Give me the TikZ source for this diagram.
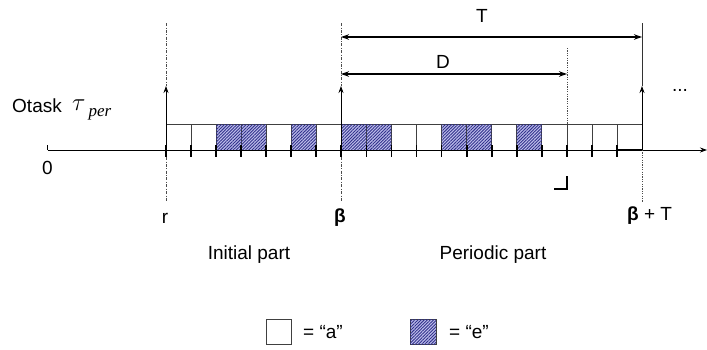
\documentclass[tikz,border=0pt]{standalone}
\usepackage{fontspec}
\setmainfont{Liberation Sans}
\newfontfamily\serifit{Liberation Serif}
\usetikzlibrary{patterns.meta,arrows.meta}
\definecolor{hatchc}{RGB}{50,50,140}
\definecolor{hatchbg}{RGB}{190,190,235}
\tikzset{
  lbl/.style={font=\fontsize{19}{22}\selectfont, inner sep=0pt},
  cellw/.style={draw=black!75, line width=0.6pt},
  cellh/.style={draw=black!75, line width=0.6pt, fill=hatchbg, postaction={pattern={Lines[angle=45,distance=2.2pt,line width=0.9pt]}, pattern color=hatchc}},
  tickm/.style={line width=1.8pt},
  dashdot/.style={dash pattern=on 3pt off 1.5pt on 0.8pt off 1.5pt, line width=0.5pt, black!70},
  dotln/.style={dash pattern=on 1.2pt off 1.2pt, line width=0.5pt, black!70},
  uparrow/.style={-{Stealth[length=7pt,width=5pt]}, line width=0.8pt},
  dimarrow/.style={{Stealth[length=8pt,width=5.5pt]}-{Stealth[length=8pt,width=5.5pt]}, line width=1.1pt},
}
\begin{document}
\begin{tikzpicture}[x=1pt,y=-1pt]
\useasboundingbox (0,0) rectangle (707,349);
% cells
\foreach \i in {0,...,18} {
  \pgfmathsetmacro\xa{166+25.05*\i}
  \pgfmathsetmacro\xb{166+25.05*(\i+1)}
  \draw[cellw] (\xa,124.5) rectangle (\xb,150);
}
\foreach \i in {2,3,5,7,8,11,12,14} {
  \pgfmathsetmacro\xa{166+25.05*\i}
  \pgfmathsetmacro\xb{166+25.05*(\i+1)}
  \draw[cellh] (\xa,124.5) rectangle (\xb,150);
}
% axis
\coordinate (ax0) at (47.7,150);
\coordinate (ax1) at (707,150);
\coordinate (ax0t) at (47.7,145);
\draw[line width=0.8pt, -{Stealth[length=7pt,width=5pt]}] (ax0) -- (ax1);
\draw[line width=0.8pt] (ax0t) -- (ax0);
\coordinate (bs0) at (617,150);
\coordinate (bs1) at (642,150);
\draw[tickm] (bs0) -- (bs1);
% ticks
\foreach \i in {0,...,18} {
  \pgfmathsetmacro\xa{166+25.05*\i}
  \draw[tickm] (\xa,145) -- (\xa,157);
}
% vertical lines
\foreach \n/\x in {r/166, b/341} {
  \coordinate (\n top) at (\x,23);
  \coordinate (\n tip) at (\x,86);
  \coordinate (\n ax) at (\x,150);
  \coordinate (\n lo0) at (\x,157);
  \coordinate (\n lo1) at (\x,201);
  \draw[dashdot] (\n top) -- (\n tip);
  \draw[dashdot] (\n lo0) -- (\n lo1);
  \draw[uparrow] (\n ax) -- (\n tip);
}
\coordinate (bTtop) at (642,23);
\coordinate (bTtip) at (642,86);
\coordinate (bTax) at (642,150);
\coordinate (bTlo) at (642,202);
\draw[line width=0.5pt, black!80] (bTtop) -- (bTtip);
\draw[dotln] (bTax) -- (bTlo);
\draw[uparrow] (bTax) -- (bTtip);
\coordinate (dtop) at (567,48);
\coordinate (dbot) at (567,124.5);
\draw[dotln] (dtop) -- (dbot);
% deadline mark
\coordinate (dm0) at (567,176);
\coordinate (dm1) at (567,189);
\coordinate (dm2) at (554,189);
\draw[line width=1.3pt] (dm0) -- (dm1) -- (dm2);
% dimension arrows
\coordinate (T0) at (341,37);
\coordinate (T1) at (642,37);
\coordinate (D0) at (341,74);
\coordinate (D1) at (567,74);
\draw[dimarrow] (T0) -- (T1);
\draw[dimarrow] (D0) -- (D1);
% labels
\node[lbl] (lT) at (482,16) {T};
\node[lbl] (lD) at (443,62) {D};
\node[lbl, anchor=base west] (lO) at (12,112) {Otask};
\node[inner sep=0pt, anchor=base west, font=\fontsize{24}{26}\selectfont] (ltau) at (72,110) {$\tau$\hspace{3pt}\raisebox{-6pt}{\serifit\itshape\fontsize{17}{20}\selectfont per}};
\node[lbl] (l0) at (47.5,168) {0};
\node[lbl] (lr) at (165,218) {r};
\node[lbl] (lb) at (340,218) {\bfseries β};
\node[lbl, anchor=west] (lbT) at (627,216) {{\bfseries β} + T};
\node[lbl] (lini) at (249,255) {Initial part};
\node[lbl] (lper) at (493,255) {Periodic part};
\node[lbl] (ldots) at (680,90) {...};
% legend
\draw[cellw] (266,319) rectangle (291.7,344);
\node[lbl, anchor=west] (la) at (303,332) {= “a”};
\draw[cellh] (410,319) rectangle (436,344);
\node[lbl, anchor=west] (le) at (449,332) {= “e”};
\end{tikzpicture}
\end{document}
